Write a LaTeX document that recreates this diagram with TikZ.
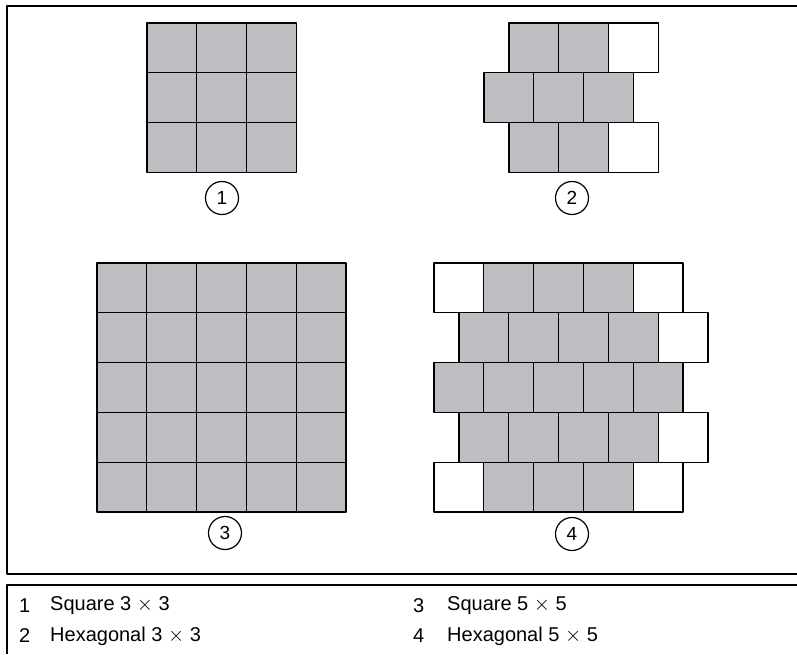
\documentclass[tikz,border=0pt]{standalone}
\usepackage{fontspec}
\setmainfont{Liberation Sans}
\definecolor{cellgray}{RGB}{189,190,193}
\tikzset{
  c1/.style={draw=black, line width=1.3pt, fill=cellgray},
  c0/.style={draw=black, line width=1.3pt, fill=white},
  callout/.style={circle, draw, line width=1.2pt, minimum size=33pt, inner sep=0pt, font=\fontsize{19}{19}\selectfont},
  frame/.style={line width=2.8pt},
  legend/.style={anchor=west, inner sep=0pt, font=\fontsize{20}{24}\selectfont}
}
\begin{document}
\begin{tikzpicture}[x=1pt, y=-1pt, line join=round]
	\def\s{49.8} % cell size
	\useasboundingbox (0,0) rectangle (797,654);
	% frames
	\draw[frame] (797,6) -| (7,574) -- (797,574);
	\draw[frame] (797,585) -| (7,654);
	% square 3x3
	\foreach \r in {0,1,2}
		\foreach \i in {0,1,2}
			\filldraw[c1] (147+\i*\s,23+\r*\s) rectangle ++(\s,\s);
	% hexagonal 3x3
	\foreach \r/\xo/\pat in {0/509/{1,1,0}, 1/484/{1,1,1}, 2/509/{1,1,0}}
		\foreach \c [count=\i from 0] in \pat
			\filldraw[c\c] (\xo+\i*\s,23+\r*\s) rectangle ++(\s,\s);
	% square 5x5
	\foreach \r in {0,...,4}
		\foreach \i in {0,...,4}
			\filldraw[c1] (97+\i*\s,263+\r*\s) rectangle ++(\s,\s);
	% hexagonal 5x5
	\foreach \r/\xo/\pat in {0/434/{0,1,1,1,0}, 1/459/{1,1,1,1,0}, 2/434/{1,1,1,1,1}, 3/459/{1,1,1,1,0}, 4/434/{0,1,1,1,0}}
		\foreach \c [count=\i from 0] in \pat
			\filldraw[c\c] (\xo+\i*\s,263+\r*\s) rectangle ++(\s,\s);
	% callouts
	\node[callout] (n1) at (222,198) {1};
	\node[callout] (n2) at (572,198) {2};
	\node[callout] (n3) at (225,533) {3};
	\node[callout] (n4) at (572,534) {4};
	% legend
	\node[legend] (k1) at (19,606) {1};
	\node[legend] (t1) at (50,606) {Square 3 $\times$ 3};
	\node[legend] (k2) at (19,636) {2};
	\node[legend] (t2) at (50,636) {Hexagonal 3 $\times$ 3};
	\node[legend] (k3) at (413,606) {3};
	\node[legend] (t3) at (447,606) {Square 5 $\times$ 5};
	\node[legend] (k4) at (413,636) {4};
	\node[legend] (t4) at (447,636) {Hexagonal 5 $\times$ 5};
\end{tikzpicture}
\end{document}
